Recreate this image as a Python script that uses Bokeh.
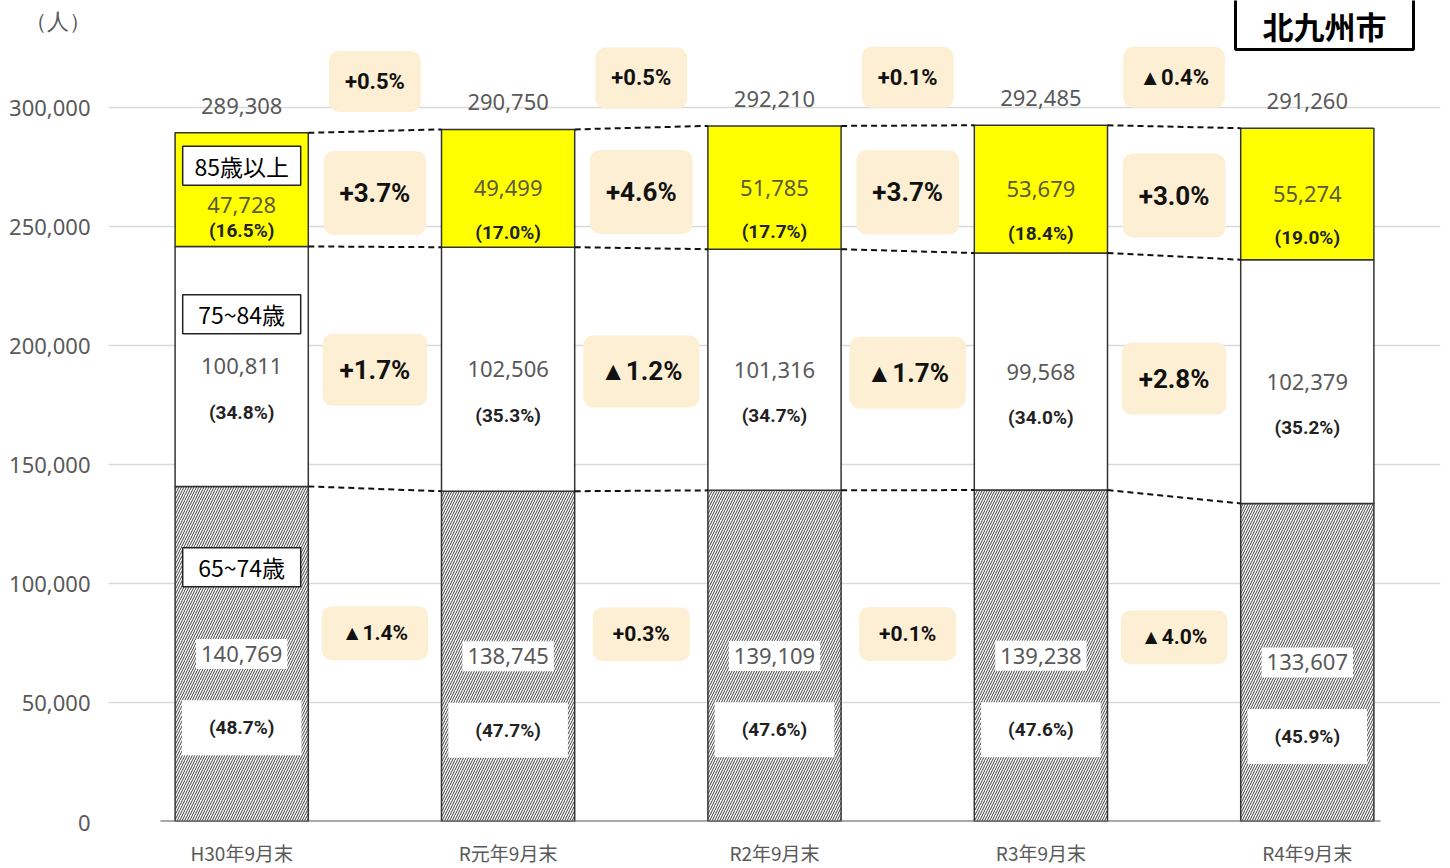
from bokeh.plotting import figure
from bokeh.models import FixedTicker, Label, Range1d, CustomJSTickFormatter
from bokeh.core.properties import value
from bokeh.embed import file_html
from bokeh.resources import INLINE

# ---------------- data ----------------
categories = ["H30年9月末", "R元年9月末", "R2年9月末", "R3年9月末", "R4年9月末"]
age_65_74 = [140769, 138745, 139109, 139238, 133607]
age_75_84 = [100811, 102506, 101316, 99568, 102379]
age_85_plus = [47728, 49499, 51785, 53679, 55274]
totals = [289308, 290750, 292210, 292485, 291260]
share_65_74 = ["(48.7%)", "(47.7%)", "(47.6%)", "(47.6%)", "(45.9%)"]
share_75_84 = ["(34.8%)", "(35.3%)", "(34.7%)", "(34.0%)", "(35.2%)"]
share_85_plus = ["(16.5%)", "(17.0%)", "(17.7%)", "(18.4%)", "(19.0%)"]
change_total = ["+0.5%", "+0.5%", "+0.1%", "▲0.4%"]
change_85_plus = ["+3.7%", "+4.6%", "+3.7%", "+3.0%"]
change_75_84 = ["+1.7%", "▲1.2%", "▲1.7%", "+2.8%"]
change_65_74 = ["▲1.4%", "+0.3%", "+0.1%", "▲4.0%"]
series_names = ["65~74歳", "75~84歳", "85歳以上"]
y_ticks = [0, 50000, 100000, 150000, 200000, 250000, 300000]
unit_label = "（人）"
city_label = "北九州市"

# ---------------- layout helpers ----------------
FIG_W, FIG_H = 1448, 868
BORDER_L, BORDER_R, BORDER_T, BORDER_B = 108, 8, 0, 46
FRAME_H = FIG_H - BORDER_T - BORDER_B
FRAME_W = FIG_W - BORDER_L - BORDER_R
PX = 715.0 / 300000.0          # pixels per person
U = 1.0 / PX                   # persons per pixel
Y_END = FRAME_H * U
XPX = FRAME_W / 5.0            # pixels per category
FRAME_LEFT = BORDER_L
FRAME_BOTTOM = BORDER_T + FRAME_H


def page_x(px):
    return (px - FRAME_LEFT) / XPX - 0.5


def page_y(py):
    return (FRAME_BOTTOM - py) * U


xs = list(range(len(categories)))
b1 = age_65_74
b2 = [a + b for a, b in zip(age_65_74, age_75_84)]

NUM_FONT = value("Noto Sans")
BOLDNUM = value("Roboto")
CJK = value("Noto Sans CJK JP")
GRAY = "#595959"
BOX = "#FDEFD3"

p = figure(width=FIG_W, height=FIG_H, output_backend="svg", toolbar_location=None,
           x_range=Range1d(-0.5, 4.5), y_range=Range1d(0, Y_END),
           min_border_left=BORDER_L, min_border_right=BORDER_R,
           min_border_top=BORDER_T, min_border_bottom=BORDER_B)
p.outline_line_color = None
p.background_fill_color = "white"
p.border_fill_color = "white"

# axes
p.xaxis.ticker = FixedTicker(ticks=xs)
p.xaxis.major_label_overrides = {i: c for i, c in zip(xs, categories)}
p.xaxis.major_label_text_font = "Noto Sans CJK JP"
p.xaxis.major_label_text_font_size = "19px"
p.xaxis.major_label_text_color = GRAY
p.xaxis.major_label_standoff = 17
p.xaxis.major_tick_out = 0
p.xaxis.major_tick_in = 0
p.xaxis.axis_line_color = None
p.xaxis.major_tick_line_color = None
p.xaxis.minor_tick_line_color = None

unit_tick = page_y(20)
p.yaxis.ticker = FixedTicker(ticks=y_ticks + [unit_tick])
p.yaxis.formatter = CustomJSTickFormatter(
    args=dict(unit_tick=unit_tick, unit_label=unit_label),
    code="""
    if (Math.abs(tick - unit_tick) < 1) { return unit_label; }
    return Math.round(tick).toLocaleString('en-US');
    """)
p.yaxis.major_label_text_font = "Noto Sans"
p.yaxis.major_label_text_font_size = "22px"
p.yaxis.major_label_text_color = GRAY
p.yaxis.major_label_standoff = 18
p.yaxis.major_tick_out = 0
p.yaxis.major_tick_in = 0
p.yaxis.axis_line_color = None
p.yaxis.major_tick_line_color = None
p.yaxis.minor_tick_line_color = None

p.xgrid.grid_line_color = None
p.ygrid.ticker = FixedTicker(ticks=y_ticks)
p.ygrid.grid_line_color = "#d9d9d9"
p.ygrid.grid_line_width = 1.5

# bars
p.vbar(x=xs, bottom=0, top=age_65_74, width=0.5, fill_color="white",
       hatch_pattern="/", hatch_color="#3c3c3c", hatch_scale=5, hatch_weight=1,
       line_color="#333333", line_width=1.5)
p.vbar(x=xs, bottom=b1, top=b2, width=0.5, fill_color="white",
       line_color="#333333", line_width=1.5)
p.vbar(x=xs, bottom=b2, top=totals, width=0.5, fill_color="#FFFF00",
       line_color="#333333", line_width=1.5)

# baseline
p.segment(x0=[xs[0] - 0.305], y0=[0], x1=[xs[-1] + 0.275], y1=[0],
          line_color="#555555", line_width=2)

# dashed connectors
for bound in (b1, b2, totals):
    p.segment(x0=[x + 0.25 for x in xs[:-1]], y0=bound[:-1],
              x1=[x - 0.25 for x in xs[1:]], y1=bound[1:],
              line_color="#111111", line_width=2, line_dash="6 4")

# total labels
p.text(x=xs, y=[t + 27 * U for t in totals], text=[f"{t:,}" for t in totals],
       text_font=NUM_FONT, text_font_size="22px", text_color=GRAY,
       text_align="center", text_baseline="middle")

# 85+ segment labels
mid85 = [(a + t) / 2 for a, t in zip(b2, totals)]
val85_y = [m - (15 * U if i == 0 else 0) for i, m in enumerate(mid85)]
pct85_y = [m - (41 * U if i == 0 else 44 * U) for i, m in enumerate(mid85)]
p.text(x=xs, y=val85_y, text=[f"{v:,}" for v in age_85_plus],
       text_font=NUM_FONT, text_font_size="22px", text_color="#5a5a38",
       text_align="center", text_baseline="middle")
p.text(x=xs, y=pct85_y, text=share_85_plus, text_font=BOLDNUM, text_font_style="bold",
       text_font_size="19px", text_color="#222222",
       text_align="center", text_baseline="middle")

# 75-84 segment labels
mid75 = [(a + b) / 2 for a, b in zip(b1, b2)]
p.text(x=xs, y=mid75, text=[f"{v:,}" for v in age_75_84],
       text_font=NUM_FONT, text_font_size="22px", text_color=GRAY,
       text_align="center", text_baseline="middle")
p.text(x=xs, y=[m - 46 * U for m in mid75], text=share_75_84, text_font=BOLDNUM,
       text_font_style="bold", text_font_size="19px", text_color="#222222",
       text_align="center", text_baseline="middle")

# 65-74 segment labels (white boxes over hatch)
mid65 = [a / 2 for a in b1]
p.text(x=xs, y=mid65, text=[f"{v:,}" for v in age_65_74],
       text_font=NUM_FONT, text_font_size="22px", text_color=GRAY,
       text_align="center", text_baseline="middle",
       background_fill_color="white", padding=dict(left=5, right=5, top=7, bottom=7))
p.text(x=xs, y=[m - 74 * U for m in mid65], text=share_65_74, text_font=BOLDNUM,
       text_font_style="bold", text_font_size="19px", text_color="#222222",
       text_align="center", text_baseline="middle",
       background_fill_color="white", padding=dict(left=27, right=27, top=16, bottom=16))

# series name boxes in first bar (fixed-size boxes)
name_y = [b1[0] - 81 * U, b2[0] - 68 * U, totals[0] - 33 * U]
p.rect(x=[xs[0]] * 3, y=name_y, width=118, height=39, width_units="screen",
       height_units="screen", fill_color="white", line_color="#222222", line_width=1.5)
p.text(x=[xs[0]] * 3, y=name_y, text=series_names, text_font=CJK,
       text_font_size="23px", text_color="black",
       text_align="center", text_baseline="middle")

# change labels between bars
mx = [x + 0.5 for x in xs[:-1]]
row_total_y = [max(a, b) + 48 * U for a, b in zip(totals[:-1], totals[1:])]
row85_y = [(a + b) / 2 - 4 * U for a, b in zip(mid85[:-1], mid85[1:])]
row75_y = [(a + b) / 2 - 2 * U for a, b in zip(mid75[:-1], mid75[1:])]
row65_y = [(a + b) / 2 + 22 * U for a, b in zip(mid65[:-1], mid65[1:])]

for ys, labels, fs, pad in (
        (row_total_y, change_total, "22px", dict(left=16, right=16, top=18, bottom=18)),
        (row85_y, change_85_plus, "26px", dict(left=16, right=16, top=27, bottom=27)),
        (row75_y, change_75_84, "26px", dict(left=17, right=17, top=21, bottom=21)),
        (row65_y, change_65_74, "21px", dict(left=20, right=20, top=15, bottom=15))):
    p.text(x=mx, y=ys, text=labels, text_font=BOLDNUM, text_font_style="bold",
           text_font_size=fs, text_color="#111111",
           text_align="center", text_baseline="middle",
           background_fill_color=BOX, border_radius=10, padding=pad)

# city box (top right)
p.add_layout(Label(x=page_x(1324), y=page_y(16), text=city_label, text_font="Noto Sans CJK JP",
                   text_font_style="bold", text_font_size="31px", text_color="black",
                   text_align="center", text_baseline="middle",
                   background_fill_color="white", border_line_color="black",
                   border_line_width=3, padding=dict(left=27, right=27, top=20, bottom=1)))

open("out.html", "w").write(file_html(p, INLINE))
